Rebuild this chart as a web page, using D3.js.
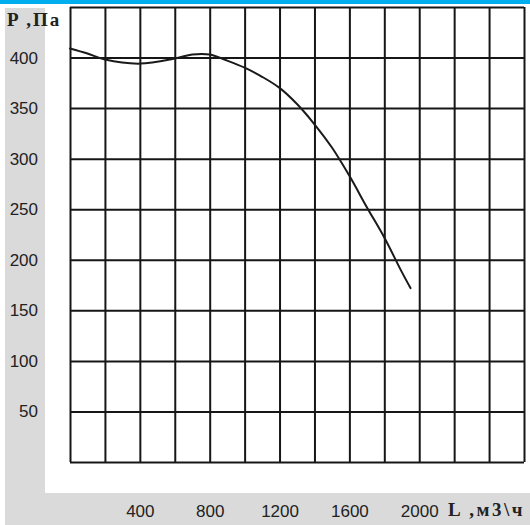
<!DOCTYPE html>
<html>
<head>
<meta charset="utf-8">
<script src="https://cdn.jsdelivr.net/npm/d3@7"></script>
<style>
  html, body { margin: 0; padding: 0; background: #fff; }
  svg { display: block; }
</style>
</head>
<body>
<svg id="chart" width="530" height="525"></svg>
<script>
// Fan performance curve: pressure P (Pa) against airflow L (m3/h)
const flowValues     = [0,   100, 200, 400, 600, 700, 800, 900, 1000, 1100, 1200, 1300, 1400, 1500, 1600, 1700, 1800, 1900, 1950];
const pressureValues = [409, 404, 398, 394, 399, 403, 403, 397, 390,  381,  370,  354,  334,  311,  283,  252,  222,  188,  172];

const xTicks = d3.range(0, 2601, 200);
const yTicks = d3.range(0, 451, 50);
const xLabels = [400, 800, 1200, 1600, 2000];
const yLabels = [50, 100, 150, 200, 250, 300, 350, 400];
const xTitle = "L ,м3\\ч";
const yTitle = "P ,Па";

const svg = d3.select("#chart");
const plot = { left: 70, right: 524, top: 7, bottom: 462 };

const x = d3.scaleLinear().domain([0, 2600]).range([plot.left, plot.right]);
const y = d3.scaleLinear().domain([0, 450]).range([plot.bottom, plot.top]);

// page frame: blue strip on top, grey margins left and bottom
svg.append("rect").attr("x", 0).attr("y", 0).attr("width", 530).attr("height", 4).attr("fill", "#00aeef");
svg.append("rect").attr("x", 5).attr("y", 8).attr("width", 40).attr("height", 517).attr("fill", "#dadada");
svg.append("rect").attr("x", 5).attr("y", 493).attr("width", 525).attr("height", 32).attr("fill", "#dadada");

const gridColor = "#161616";

// horizontal grid + pressure labels
const yAxis = d3.axisLeft(y)
  .tickValues(yTicks)
  .tickSizeInner(-(plot.right - plot.left))
  .tickSizeOuter(0)
  .tickPadding(32)
  .tickFormat(v => yLabels.includes(v) ? String(v) : "");

const gy = svg.append("g").attr("transform", `translate(${plot.left},0)`).call(yAxis);
gy.select(".domain").remove();
gy.selectAll(".tick line").attr("stroke", gridColor).attr("stroke-width", 2);
gy.selectAll(".tick text")
  .attr("fill", "#222")
  .attr("font-family", "'Liberation Sans', Arial, sans-serif")
  .attr("font-size", 17);

// vertical grid + airflow labels
const xAxis = d3.axisBottom(x)
  .tickValues(xTicks)
  .tickSizeInner(-(plot.bottom - plot.top))
  .tickSizeOuter(0)
  .tickPadding(43)
  .tickFormat(v => xLabels.includes(v) ? String(v) : "");

const gx = svg.append("g").attr("transform", `translate(0,${plot.bottom})`).call(xAxis);
gx.select(".domain").remove();
gx.selectAll(".tick line").attr("stroke", gridColor).attr("stroke-width", 2);
gx.selectAll(".tick text")
  .attr("fill", "#222")
  .attr("font-family", "'Liberation Sans', Arial, sans-serif")
  .attr("font-size", 17);

// axis titles
svg.append("text")
  .attr("x", 7).attr("y", 26)
  .attr("font-family", "'Liberation Serif', 'Times New Roman', serif")
  .attr("font-weight", "bold")
  .attr("font-size", 19)
  .attr("letter-spacing", 2)
  .attr("fill", "#222")
  .text(yTitle);

svg.append("text")
  .attr("x", 448).attr("y", 516)
  .attr("font-family", "'Liberation Serif', 'Times New Roman', serif")
  .attr("font-weight", "bold")
  .attr("font-size", 19)
  .attr("letter-spacing", 2.5)
  .attr("fill", "#222")
  .text(xTitle);

// characteristic curve
const pts = flowValues.map((l, i) => [l, pressureValues[i]]);
const line = d3.line()
  .x(d => x(d[0]))
  .y(d => y(d[1]))
  .curve(d3.curveCatmullRom.alpha(0.5));

svg.append("path")
  .datum(pts)
  .attr("fill", "none")
  .attr("stroke", "#1a1a1a")
  .attr("stroke-width", 2)
  .attr("stroke-linecap", "round")
  .attr("d", line);
</script>
</body>
</html>
